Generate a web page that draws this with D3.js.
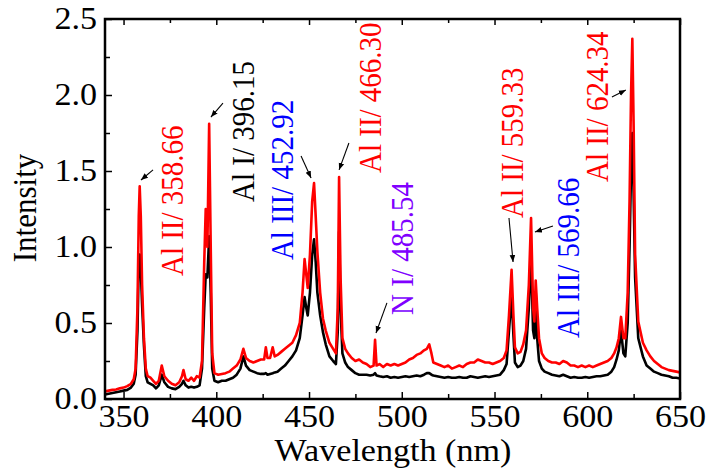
<!DOCTYPE html>
<html>
<head>
<meta charset="utf-8">
<script src="https://cdn.jsdelivr.net/npm/d3@7"></script>
</head>
<body style="margin:0;padding:0;background:#fff;">
<svg id="chart" width="707" height="470" style="display:block"></svg>
<script>
// ---- data ----
const wavelength = [340,342,344,346,348,350,352,354,355.5,356.5,357.5,358.2,358.7,359.3,360,361,362,363,364.5,366,367.5,369,370.6,372,374,376,378,380,381.5,382.3,383.5,385,386.5,388,389.5,391,392.3,393.5,394.3,395.2,396.15,397,397.8,399,401,403,405,407,409,411,413,414.6,416,418,420,422,424,425.8,426.7,427.6,429,430.4,431.5,433,435,437,439,441,443,445,446.5,447.6,448.5,449.3,450.5,451.7,452.7,453.6,454.5,456,457.5,459,461,463,464.5,465.5,466.2,467,468,469.5,471,473,475,477,479,481,483,484.8,485.6,486.4,488,490,492,494,496,498,500,502,504,506,508,510,512,513.5,514.8,516,517,519,521,523,525,527,529,531,533,535,537,539,541,543,545,547,549,551,553,555,556.5,557.8,559.2,560.2,561,562.5,564,565.5,567,568.5,569.7,570.8,571.5,572.2,573,574,575.5,577,579,581,583,585,587,589,591,593,595,597,599,601,603,605,607,609,611,613,614.5,615.8,617,618.2,619.5,620.5,621.8,622.8,623.6,624.3,625,625.8,627.5,630,632,634,636,638,640,642,644,646,648,650];
const redSeries = [0.05,0.055,0.06,0.062,0.07,0.075,0.085,0.1,0.13,0.2,0.6,1.2,1.40,1.2,0.75,0.4,0.2,0.15,0.14,0.12,0.1,0.12,0.22,0.15,0.12,0.1,0.09,0.11,0.15,0.19,0.13,0.12,0.14,0.12,0.15,0.14,0.25,0.9,1.25,1.0,1.81,1.0,0.3,0.17,0.16,0.165,0.17,0.18,0.2,0.22,0.26,0.33,0.27,0.25,0.24,0.25,0.26,0.26,0.34,0.27,0.27,0.34,0.28,0.29,0.31,0.33,0.35,0.37,0.42,0.5,0.7,0.92,0.82,0.73,0.95,1.3,1.42,1.2,0.97,0.7,0.53,0.45,0.37,0.33,0.3,0.6,1.46,0.8,0.4,0.33,0.3,0.27,0.25,0.26,0.24,0.23,0.21,0.22,0.39,0.22,0.23,0.21,0.23,0.22,0.23,0.22,0.23,0.24,0.26,0.27,0.29,0.3,0.32,0.33,0.36,0.3,0.24,0.23,0.22,0.21,0.22,0.2,0.21,0.22,0.21,0.23,0.24,0.24,0.26,0.25,0.24,0.24,0.23,0.24,0.25,0.27,0.32,0.55,0.85,0.55,0.34,0.3,0.31,0.36,0.45,0.75,1.19,0.6,0.51,0.78,0.6,0.4,0.3,0.27,0.25,0.24,0.24,0.23,0.25,0.24,0.22,0.22,0.21,0.22,0.21,0.22,0.21,0.22,0.23,0.24,0.25,0.27,0.3,0.34,0.4,0.54,0.40,0.4,0.7,1.3,2.0,2.37,1.8,0.95,0.51,0.37,0.32,0.28,0.25,0.23,0.21,0.2,0.19,0.185,0.18,0.175];
const blackSeries = [0.03,0.035,0.04,0.045,0.05,0.055,0.06,0.075,0.1,0.16,0.45,0.9,0.95,0.85,0.62,0.35,0.15,0.11,0.1,0.09,0.07,0.09,0.16,0.11,0.08,0.07,0.065,0.08,0.1,0.12,0.09,0.075,0.08,0.075,0.08,0.09,0.2,0.6,0.82,0.8,1.07,0.7,0.2,0.12,0.11,0.12,0.12,0.13,0.14,0.16,0.2,0.28,0.22,0.19,0.18,0.17,0.165,0.165,0.17,0.16,0.165,0.17,0.175,0.18,0.2,0.22,0.25,0.28,0.32,0.4,0.55,0.67,0.6,0.55,0.7,0.95,1.05,0.9,0.7,0.55,0.44,0.36,0.28,0.25,0.23,0.45,1.1,0.6,0.3,0.24,0.21,0.19,0.17,0.16,0.16,0.16,0.155,0.16,0.17,0.155,0.15,0.145,0.15,0.14,0.145,0.14,0.145,0.15,0.145,0.15,0.155,0.15,0.16,0.17,0.17,0.16,0.155,0.15,0.145,0.14,0.145,0.14,0.14,0.145,0.14,0.14,0.15,0.145,0.14,0.145,0.15,0.145,0.15,0.155,0.16,0.19,0.23,0.45,0.68,0.42,0.24,0.21,0.22,0.25,0.33,0.6,0.95,0.45,0.40,0.7,0.4,0.25,0.2,0.18,0.17,0.16,0.155,0.15,0.16,0.15,0.14,0.145,0.14,0.14,0.145,0.14,0.145,0.15,0.15,0.155,0.16,0.18,0.21,0.26,0.32,0.45,0.3,0.28,0.5,1.0,1.5,1.75,1.35,0.8,0.40,0.28,0.22,0.2,0.18,0.17,0.16,0.155,0.15,0.14,0.14,0.135];
const xTicks = [350,400,450,500,550,600,650];
const xMinorTicks = [375,425,475,525,575,625];
const yTicks = [0,0.5,1.0,1.5,2.0,2.5];
const yMinorTicks = [0.25,0.75,1.25,1.75,2.25];
// annotation labels: text, colour, label anchor (nm, intensity), arrow from -> to
const annLabels = ["Al II/ 358.66","Al I/ 396.15","Al III/ 452.92","Al II/ 466.30","N I/ 485.54","Al II/ 559.33","Al III/ 569.66","Al II/ 624.34"];
const annColors = ["#ff0000","#000000","#0000ff","#ff0000","#8000ff","#ff0000","#0000ff","#ff0000"];
const annX = [376.1,414.4,435.4,482.9,500.1,559.4,589.6,605.3];
const annY = [0.809,1.296,0.914,1.487,0.553,1.191,0.401,1.428];
const arrowFrom = [[365.9,1.507],[403.6,1.947],[445.7,1.599],[471.5,1.684],[492.0,0.632],[557.8,1.191],[581.5,1.138],[613.3,1.987]];
const arrowTo = [[359.4,1.441],[397.1,1.855],[451.1,1.454],[466.2,1.507],[486.1,0.434],[560.0,0.901],[571.8,1.099],[620.8,2.033]];

// ---- layout ----
const FONT = "Liberation Serif";
const SX = 1.1; // horizontal stretch of the original lettering
const svg = d3.select("#chart");
const L = 105, R = 680, T = 19, B = 399;
const x = d3.scaleLinear().domain([340,650]).range([L,R]);
const y = d3.scaleLinear().domain([0,2.5]).range([B,T]);

const defs = svg.append("defs");
defs.append("clipPath").attr("id","clip")
  .append("rect").attr("x",L).attr("y",T).attr("width",R-L).attr("height",B-T);

const line = d3.line().x(d=>x(d[0])).y(d=>y(d[1]));
const blackData = wavelength.map((w,i)=>[w,blackSeries[i]]);
const redData = wavelength.map((w,i)=>[w,redSeries[i]]);

const g = svg.append("g").attr("clip-path","url(#clip)");
g.append("path").datum(blackData).attr("d",line).attr("fill","none")
  .attr("stroke","#000").attr("stroke-width",2.6).attr("stroke-linejoin","round");
g.append("path").datum(redData).attr("d",line).attr("fill","none")
  .attr("stroke","#ff0000").attr("stroke-width",2.6).attr("stroke-linejoin","round");

// axes
const fs = 31;
const axG = [];
axG.push(svg.append("g").attr("class","xax").attr("transform",`translate(0,${B})`)
  .call(d3.axisBottom(x).tickValues(xTicks).tickSize(-7).tickPadding(6).tickFormat(d3.format("d"))));
axG.push(svg.append("g").attr("transform",`translate(0,${B})`)
  .call(d3.axisBottom(x).tickValues(xMinorTicks).tickSize(-5).tickFormat("")));
axG.push(svg.append("g").attr("transform",`translate(0,${T})`)
  .call(d3.axisTop(x).tickValues(xTicks).tickSize(-6).tickFormat("")));
axG.push(svg.append("g").attr("transform",`translate(0,${T})`)
  .call(d3.axisTop(x).tickValues(xMinorTicks).tickSize(-4).tickFormat("")));
axG.push(svg.append("g").attr("class","yax").attr("transform",`translate(${L},0)`)
  .call(d3.axisLeft(y).tickValues(yTicks).tickSize(-7).tickPadding(8).tickFormat(d3.format(".1f"))));
axG.push(svg.append("g").attr("transform",`translate(${L},0)`)
  .call(d3.axisLeft(y).tickValues(yMinorTicks).tickSize(-5).tickFormat("")));
axG.forEach(a=>a.attr("font-family",FONT).attr("font-size",fs));

svg.selectAll(".domain").remove();
svg.selectAll(".tick line").attr("stroke","#000").attr("stroke-width",1.5);
svg.selectAll(".tick text").attr("fill","#000")
  .attr("font-family",FONT).style("font-family",FONT).attr("font-size",fs);
svg.selectAll(".xax .tick text").attr("transform",`scale(${SX},1)`);
svg.selectAll(".yax .tick text").attr("x",-8/SX).attr("transform",`scale(${SX},1)`);

// frame
svg.append("rect").attr("x",L).attr("y",T).attr("width",R-L).attr("height",B-T)
  .attr("fill","none").attr("stroke","#000").attr("stroke-width",2.5);

// axis titles
svg.append("text").attr("transform",`translate(393,461) scale(${SX},1)`).attr("text-anchor","middle")
  .attr("font-family",FONT).style("font-family",FONT).attr("font-size",fs).text("Wavelength (nm)");
svg.append("text").attr("transform",`translate(36,208) scale(${SX},1) rotate(-90)`).attr("text-anchor","middle")
  .attr("font-family",FONT).style("font-family",FONT).attr("font-size",fs).text("Intensity");

// arrows
defs.append("marker").attr("id","ah").attr("viewBox","0 0 10 10").attr("refX",10).attr("refY",5)
  .attr("markerWidth",7).attr("markerHeight",7).attr("markerUnits","userSpaceOnUse").attr("orient","auto")
  .append("path").attr("d","M0,1 L10,5 L0,9 Z").attr("fill","#000");
svg.append("g").selectAll("line").data(arrowFrom).join("line")
  .attr("x1",d=>x(d[0])).attr("y1",d=>y(d[1]))
  .attr("x2",(d,i)=>x(arrowTo[i][0])).attr("y2",(d,i)=>y(arrowTo[i][1]))
  .attr("stroke","#000").attr("stroke-width",1.1).attr("marker-end","url(#ah)");

// annotation labels
svg.append("g").selectAll("text").data(annLabels).join("text")
  .attr("transform",(d,i)=>`translate(${x(annX[i])},${y(annY[i])}) scale(${SX},1) rotate(-90)`)
  .attr("dy","0.35em").attr("text-anchor","start")
  .attr("font-family",FONT).style("font-family",FONT).attr("font-size",29)
  .attr("fill",(d,i)=>annColors[i]).text(d=>d);
</script>
</body>
</html>
